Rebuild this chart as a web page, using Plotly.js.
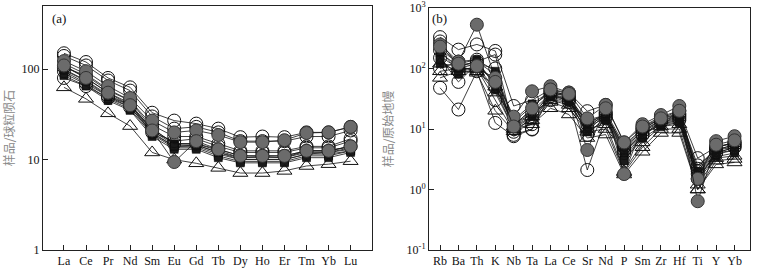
<!DOCTYPE html>
<html><head><meta charset="utf-8">
<script src="https://cdn.plot.ly/plotly-3.0.1.min.js"></script>
<style>html,body{margin:0;padding:0;background:#fff}#chart{width:758px;height:274px}</style>
</head><body><div id="chart"></div>
<script>
// ---- Panel (a): chondrite-normalised REE ----
const reeElements = ["La","Ce","Pr","Nd","Sm","Eu","Gd","Tb","Dy","Ho","Er","Tm","Yb","Lu"];
const reeOpen1 = [150,120,80,63,33,27,25,22,17.7,18,17.7,20,20,23];
const reeOpen2 = [140,110,75,58,30,22,23,20,16,16,16,18,18,21];
const reeOpen3 = [80,65,48,38,20,16,17,14,12,12,12,13.5,13.5,16];
const reeOpen4 = [105,85,58,45,24,18,18,15,12.5,12.5,12.5,14,14,17];
const reeOpen5 = [95,70,50,40,22,15,15,13,11,11,11,12.5,12.5,14];
const reeGrey1 = [123,95,65,48,27,20,21,18.7,15.6,15.6,16.4,19.7,20,23];
const reeGrey2 = [110,80,55,40,21,9.4,16,13,11,11,11,12.5,12.5,14];
const reeTri1  = [63,47,32.5,23.5,12,10,9.1,8.1,7.1,7.1,7.5,8.5,8.9,9.6];
const reeSq1 = [115,88,60,45,22,15,15,12.5,10.5,10.5,10.5,12,12,13];
const reeSq2 = [100,75,52,40,20,14,14,11.5,10,10,10,11.5,11.5,12.5];
const reeSq3 = [90,68,47,36,19,13.5,13.5,11,9.5,9.5,9.5,11,11,12.5];
const reeSq4 = [108,80,55,42,21,14.5,14.5,12,10,10,10,11.5,12,13.5];
const reeSq5 = [85,65,45,35,18,13,13,10.5,9.2,9.2,9.2,10.5,10.5,12];
const reeSq6 = [98,74,50,38,19.5,14,14.5,12,10.5,10.8,10.5,12.5,12.5,14];
const reeTicks = [1,10,100,500];

// ---- Panel (b): primitive-mantle-normalised trace elements ----
const traceElements = ["Rb","Ba","Th","K","Nb","Ta","La","Ce","Sr","Nd","P","Sm","Zr","Hf","Ti","Y","Yb"];
const trOpen1 = [330,205,250,195,24,30,45,40,19.7,25,6,11,16,20,3.3,5,6];
const trOpen2 = [48,21,90,12.6,7.6,9.8,35,30,2.1,15,4,8,13,14,1.5,4,5];
const trOpen3 = [280,110,130,170,10,12,40,35,12,18,5,9,14,16,2,4.5,5.5];
const trOpen4 = [150,60,120,100,8,10,38,32,8,16,4.5,8,13,15,1.8,4,5];
const trOpen5 = [100,130,140,50,12,18,30,28,14,17,5,10,15,17,2.5,4.5,5.5];
const trOpen6 = [200,90,100,30,9,15,42,36,10,19,5.5,10,15,18,2.2,5,6];
const trGrey1 = [250,130,530,70,16,42,51,40,15,25,6,12,17,24,1.5,6.3,7.6];
const trGrey2 = [230,120,110,60,11,22,45,38,4.5,22,1.8,11,15,20,0.64,5.5,6.5];
const trTri1 = [70,90,85,20,9.2,12,22,17.4,7.1,8.1,1.77,4.2,8.6,8.6,1.0,2.6,2.8];
const trTri2 = [90,100,100,40,10,14,28,22,9,10,1.9,5,10,10,1.0,3,3.2];
const trTri3 = [120,110,90,50,11,16,30,25,10,12,2,6,11,12,1.2,3.3,3.6];
const trSq1 = [160,100,120,60,12,20,38,30,11,15,3.5,8,12,14,1.6,4,4.5];
const trSq2 = [120,90,110,45,10,16,34,28,9,14,3,7,11,13,1.4,3.5,4];
const trSq3 = [180,110,130,80,13,24,40,34,13,17,4,9,13,16,1.8,4.5,5];
const trSq4 = [140,80,100,70,11,18,36,30,12,16,3,8,12,13,1.5,3.8,4.5];
const trSq5 = [210,120,140,90,14,26,42,36,9,18,4.5,9.5,14,17,2,5,5.8];
const traceTicks = [0.1,1,10,100,1000];
const traceTickText = ["10<sup>-1</sup>","10<sup>0</sup>","10<sup>1</sup>","10<sup>2</sup>","10<sup>3</sup>"];

const styles = {
  open:  {symbol:"circle", size:13, color:"rgba(0,0,0,0)", line:{color:"#111", width:1}},
  grey:  {symbol:"circle", size:13, color:"#6b6b6b", line:{color:"#333", width:1}},
  tri:   {symbol:"triangle-up", size:13, color:"rgba(0,0,0,0)", line:{color:"#111", width:1}},
  sq:    {symbol:"square", size:8, color:"#1a1a1a", line:{color:"#000", width:0.5}}
};
function tr(xs, ys, kind, xa, ya){
  return {x: xs, y: ys, type:"scatter", mode:"lines+markers", xaxis:xa, yaxis:ya,
    line:{color:"#111", width:0.8}, marker: styles[kind], showlegend:false, hoverinfo:"skip", cliponaxis:false};
}
const traces = [];
[[reeSq1,"sq"],[reeSq2,"sq"],[reeSq3,"sq"],[reeSq4,"sq"],[reeSq5,"sq"],[reeSq6,"sq"],
 [reeOpen1,"open"],[reeOpen2,"open"],[reeOpen3,"open"],[reeOpen4,"open"],[reeOpen5,"open"],
 [reeTri1,"tri"],[reeGrey1,"grey"],[reeGrey2,"grey"]].forEach(p=>traces.push(tr(reeElements,p[0],p[1],"x","y")));
[[trSq1,"sq"],[trSq2,"sq"],[trSq3,"sq"],[trSq4,"sq"],[trSq5,"sq"],
 [trOpen1,"open"],[trOpen2,"open"],[trOpen3,"open"],[trOpen4,"open"],[trOpen5,"open"],[trOpen6,"open"],
 [trTri1,"tri"],[trTri2,"tri"],[trTri3,"tri"],[trGrey1,"grey"],[trGrey2,"grey"]].forEach(p=>traces.push(tr(traceElements,p[0],p[1],"x2","y2")));

const fnt = {family:"Liberation Serif, Times New Roman, serif", size:12, color:"#111"};
const cjk = {family:"Noto Sans CJK SC, sans-serif", size:12, color:"#888"};
const axCommon = {showline:true, linecolor:"#222", linewidth:1, mirror:true, ticks:"inside", ticklen:5, tickcolor:"#222", showgrid:false, zeroline:false, tickfont:fnt};
const layout = {
  width:758, height:274, margin:{l:0,r:0,t:0,b:0}, paper_bgcolor:"#fff", plot_bgcolor:"#fff",
  xaxis: Object.assign({}, axCommon, {domain:[43/758, 372/758], type:"category", range:[-0.95,13.97], anchor:"y"}),
  yaxis: Object.assign({}, axCommon, {domain:[24/274, 268/274], type:"log", range:[0, Math.log10(500)], tickvals:reeTicks, ticktext:reeTicks.map(String), anchor:"x",
    title:{text:"样品/球粒陨石", font:cjk, standoff:18}}),
  xaxis2: Object.assign({}, axCommon, {domain:[429/758, 750/758], type:"category", range:[-0.6,16.84], anchor:"y2"}),
  yaxis2: Object.assign({}, axCommon, {domain:[24/274, 266/274], type:"log", range:[-1,3], tickvals:traceTicks, ticktext:traceTickText, anchor:"x2",
    title:{text:"样品/原始地幔", font:cjk, standoff:10}}),
  annotations:[
    {text:"(a)", xref:"paper", yref:"paper", x:50/758, y:1-18/274, xanchor:"left", yanchor:"middle", showarrow:false, font:Object.assign({},fnt,{size:13})},
    {text:"(b)", xref:"paper", yref:"paper", x:430/758, y:1-18/274, xanchor:"left", yanchor:"middle", showarrow:false, font:Object.assign({},fnt,{size:13})}
  ]
};
Plotly.newPlot("chart", traces, layout, {staticPlot:true, displayModeBar:false});
</script></body></html>
